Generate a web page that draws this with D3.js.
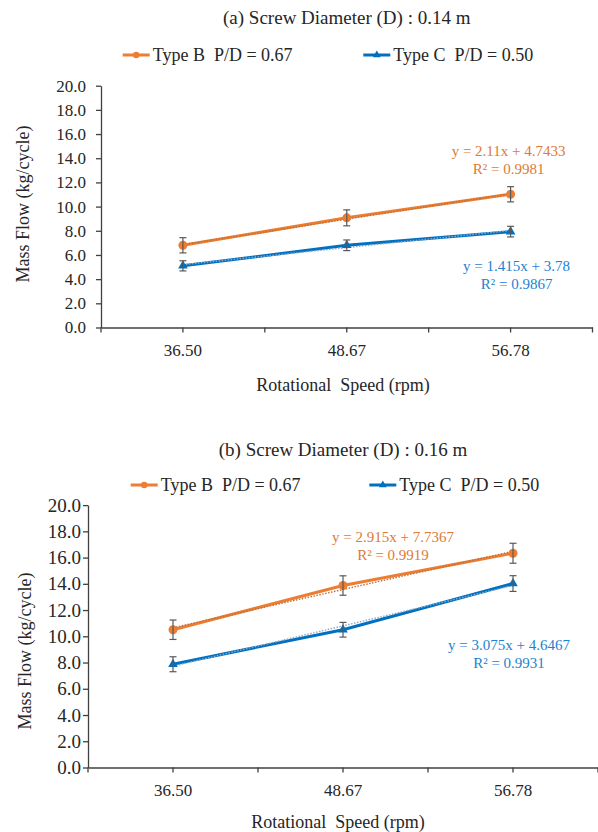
<!DOCTYPE html>
<html>
<head>
<meta charset="utf-8">
<script src="https://cdn.jsdelivr.net/npm/d3@7"></script>
<style>
  body { margin: 0; background: #fff; }
  text { font-family: "Liberation Serif", "Times New Roman", serif; fill: #262626; }
</style>
</head>
<body>
<script>
// categories and ticks
var speeds = ["36.50", "48.67", "56.78"];
var massTicks = [0, 2, 4, 6, 8, 10, 12, 14, 16, 18, 20];
var seriesNames = ["Type B  P/D = 0.67", "Type C  P/D = 0.50"];

// (a) screw diameter 0.14 m
var flowA_B = [6.80, 9.07, 11.02];
var errA_B = [0.63, 0.66, 0.63];
var flowA_C = [5.10, 6.80, 7.93];
var errA_C = [0.42, 0.44, 0.44];
var trendA_B = [2.11, 4.7433];
var trendA_C = [1.415, 3.78];
var eqA_B = ["y = 2.11x + 4.7433", "R² = 0.9981"];
var eqA_C = ["y = 1.415x + 3.78", "R² = 0.9867"];

// (b) screw diameter 0.16 m
var flowB_B = [10.50, 13.87, 16.33];
var errB_B = [0.74, 0.74, 0.76];
var flowB_C = [7.87, 10.50, 14.02];
var errB_C = [0.57, 0.56, 0.60];
var trendB_B = [2.915, 7.7367];
var trendB_C = [3.075, 4.6467];
var eqB_B = ["y = 2.915x + 7.7367", "R² = 0.9919"];
var eqB_C = ["y = 3.075x + 4.6467", "R² = 0.9931"];

var orange = "#ED7D31", blue = "#0070C0";

var svg = d3.select("body").append("svg")
    .attr("width", 598)
    .attr("height", 832);

var charts = [
  { title: "(a) Screw Diameter (D) : 0.14 m", titleY: 23.6,
    left: 101, right: 592.5, top: 85.7, bottom: 327.5,
    legendY: 55, legendX: [122.7, 363.3],
    yFont: 17, yPad: 10, xPad: 11.5,
    yLabel: [28.5, 204], xLabel: [343, 391],
    series: [
      { values: flowA_B, err: errA_B, trend: trendA_B, eq: eqA_B, color: orange, text: "#DD7A36",
        trendColor: "#B8703F", marker: "circle", eqAt: [2, -2, 14.18] },
      { values: flowA_C, err: errA_C, trend: trendA_C, eq: eqA_C, color: blue, text: "#1E82D2",
        trendColor: "#8FA9C4", marker: "triangle", eqAt: [2, 6, 4.67] }
    ] },
  { title: "(b) Screw Diameter (D) : 0.16 m", titleY: 456.3,
    left: 88, right: 598, top: 505.1, bottom: 767.5,
    legendY: 485, legendX: [130.7, 369.3],
    yFont: 19, yPad: 2, xPad: 11,
    yLabel: [30.5, 651], xLabel: [338, 828],
    series: [
      { values: flowB_B, err: errB_B, trend: trendB_B, eq: eqB_B, color: orange, text: "#DD7A36",
        trendColor: "#B8703F", marker: "circle", eqAt: [1, 50, 17.15] },
      { values: flowB_C, err: errB_C, trend: trendB_C, eq: eqB_C, color: blue, text: "#1E82D2",
        trendColor: "#8FA9C4", marker: "triangle", eqAt: [2, -4, 8.99] }
    ] }
];

function drawMarker(g, type, color, px, py, small) {
  if (type == "circle") {
    g.append("circle").attr("cx", px).attr("cy", py)
      .attr("r", small ? 3.2 : 4.5).attr("fill", color);
  } else {
    g.append("path")
      .attr("d", d3.symbol().type(d3.symbolTriangle).size(small ? 26 : 40)())
      .attr("transform", "translate(" + px + "," + py + ")")
      .attr("fill", color);
  }
}

function drawChart(c) {
  var x = d3.scaleBand().domain(speeds).range([c.left, c.right]);
  var y = d3.scaleLinear().domain([0, 20]).range([c.bottom, c.top]);
  var cx = function(i) { return x(speeds[i]) + x.bandwidth() / 2; };

  // title
  svg.append("text")
      .attr("x", (c.left + c.right) / 2)
      .attr("y", c.titleY)
      .attr("text-anchor", "middle")
      .style("font-size", "19px")
      .text(c.title);

  // legend
  c.series.forEach(function(s, k) {
    var lx = c.legendX[k];
    svg.append("line")
        .attr("x1", lx).attr("x2", lx + 27)
        .attr("y1", c.legendY).attr("y2", c.legendY)
        .attr("stroke", s.color).attr("stroke-width", 3);
    drawMarker(svg, s.marker, s.color, lx + 13.5, c.legendY, true);
    svg.append("text")
        .attr("x", lx + 30)
        .attr("y", c.legendY + 6)
        .style("font-size", "18px")
        .style("white-space", "pre")
        .text(seriesNames[k]);
  });

  // y axis
  var yg = svg.append("g")
      .attr("transform", "translate(" + c.left + ",0)")
      .call(d3.axisLeft(y).tickValues(massTicks).tickFormat(d3.format(".1f"))
        .tickSize(5).tickSizeOuter(0).tickPadding(c.yPad));
  yg.selectAll("text").style("font-size", c.yFont + "px").attr("fill", "#262626");

  // x axis
  var xg = svg.append("g")
      .attr("transform", "translate(0," + c.bottom + ")")
      .call(d3.axisBottom(x).tickSize(5).tickSizeOuter(0).tickPadding(c.xPad));
  xg.selectAll("text").style("font-size", "17px").attr("fill", "#262626");
  var edges = speeds.map(function(d) { return x(d); }).concat([x.range()[1]]);
  xg.selectAll(".edge")
    .data(edges)
    .enter().append("line")
      .attr("class", "edge")
      .attr("x1", function(d) { return d; })
      .attr("x2", function(d) { return d; })
      .attr("y1", 0).attr("y2", 5);

  svg.selectAll(".domain, .tick line, .edge")
      .attr("stroke", "#404040")
      .attr("stroke-width", 1.3);

  // axis titles
  svg.append("text")
      .attr("transform", "translate(" + c.yLabel[0] + "," + c.yLabel[1] + ") rotate(-90)")
      .attr("text-anchor", "middle")
      .style("font-size", "18px")
      .text("Mass Flow (kg/cycle)");

  svg.append("text")
      .attr("x", c.xLabel[0])
      .attr("y", c.xLabel[1])
      .attr("text-anchor", "middle")
      .style("font-size", "18px")
      .style("white-space", "pre")
      .text("Rotational  Speed (rpm)");

  // series
  c.series.forEach(function(s) {
    var line = d3.line()
        .x(function(d, i) { return cx(i); })
        .y(function(d) { return y(d); });

    svg.append("path")
        .datum(s.values)
        .attr("d", line)
        .attr("fill", "none")
        .attr("stroke", s.color)
        .attr("stroke-width", 3);

    // linear trendline from the fitted equation, x = 1, 2, 3
    var trendVals = s.values.map(function(d, i) { return s.trend[0] * (i + 1) + s.trend[1]; });
    svg.append("path")
        .datum(trendVals)
        .attr("d", line)
        .attr("fill", "none")
        .attr("stroke", s.trendColor)
        .attr("stroke-width", 1.4)
        .attr("stroke-dasharray", "1.5,1.5");

    s.values.forEach(function(d, i) {
      drawMarker(svg, s.marker, s.color, cx(i), y(d), false);
    });

    // error bars
    var eb = svg.append("g").attr("stroke", "#595959").attr("stroke-width", 1.2);
    s.values.forEach(function(d, i) {
      var px = cx(i), lo = y(d - s.err[i]), hi = y(d + s.err[i]);
      eb.append("line").attr("x1", px).attr("x2", px).attr("y1", lo).attr("y2", hi);
      eb.append("line").attr("x1", px - 3.5).attr("x2", px + 3.5).attr("y1", lo).attr("y2", lo);
      eb.append("line").attr("x1", px - 3.5).attr("x2", px + 3.5).attr("y1", hi).attr("y2", hi);
    });

    // equation labels
    var ex = cx(s.eqAt[0]) + s.eqAt[1], ey = y(s.eqAt[2]);
    s.eq.forEach(function(t, j) {
      svg.append("text")
          .attr("x", ex)
          .attr("y", ey + j * 18)
          .attr("text-anchor", "middle")
          .style("font-size", "15px")
          .style("fill", s.text)
          .text(t);
    });
  });
}

charts.forEach(drawChart);
</script>
</body>
</html>
